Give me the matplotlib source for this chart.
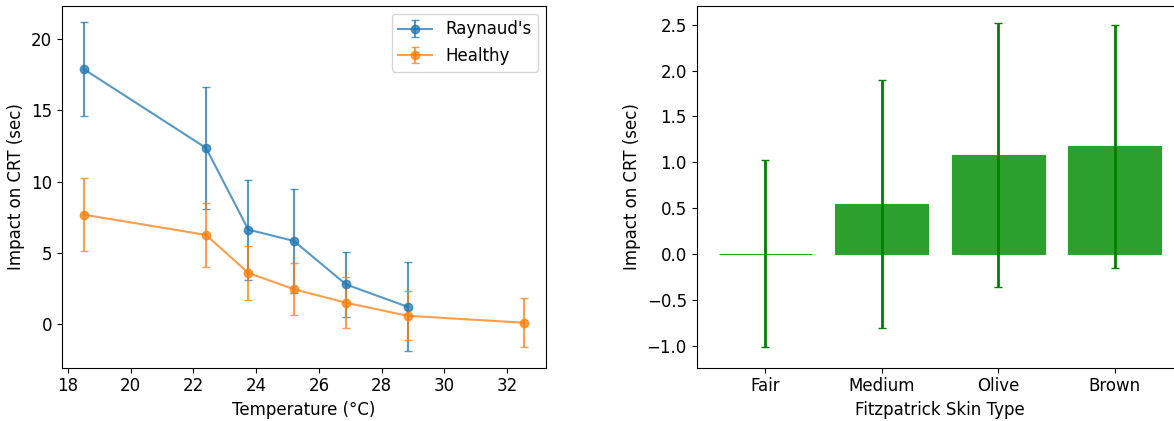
import numpy as np
import matplotlib.pyplot as plt

# temperatura vs impacto en CRT
temp_ray = [18.5, 22.4, 23.75, 25.2, 26.87, 28.83]
crt_ray = [17.88, 12.36, 6.64, 5.85, 2.80, 1.24]
err_ray = [3.3, 4.3, 3.5, 3.65, 2.3, 3.1]

temp_sana = [18.5, 22.4, 23.75, 25.2, 26.87, 28.83, 32.55]
crt_sana = [7.69, 6.27, 3.61, 2.47, 1.52, 0.61, 0.12]
err_sana = [2.54, 2.24, 1.9, 1.8, 1.77, 1.7, 1.71]

# tipo de piel
tipos = ["Fair", "Medium", "Olive", "Brown"]
impacto = [0.0, 0.547, 1.083, 1.174]
err_tipo = [1.02, 1.355, 1.44, 1.325]

plt.rcParams['font.size'] = 12

fig = plt.figure(figsize=(11.74, 4.21), dpi=100)
ax1 = fig.add_axes([61.7/1174, 53.5/421, 484.5/1174, 362/421])
ax2 = fig.add_axes([696.7/1174, 53.5/421, 486.6/1174, 362/421])

ax1.errorbar(temp_ray, crt_ray, yerr=err_ray, fmt='-o', capsize=3,
             alpha=0.75, label="Raynaud's")
ax1.errorbar(temp_sana, crt_sana, yerr=err_sana, fmt='-o', capsize=3,
             alpha=0.75, label="Healthy")
ax1.set_xlabel("Temperature (°C)")
ax1.set_ylabel("Impact on CRT (sec)")
ax1.legend(loc="upper right")

x = np.arange(len(tipos))
ax2.bar(x, impacto, yerr=err_tipo, color='tab:green', ecolor='green',
        capsize=3, error_kw={'elinewidth': 2}, edgecolor='tab:green', linewidth=0.8)
ax2.set_xticks(x)
ax2.set_xticklabels(tipos)
ax2.set_ylim(-1.24, 2.71)
ax2.set_xlabel("Fitzpatrick Skin Type")
ax2.set_ylabel("Impact on CRT (sec)")

plt.savefig("out.png")
